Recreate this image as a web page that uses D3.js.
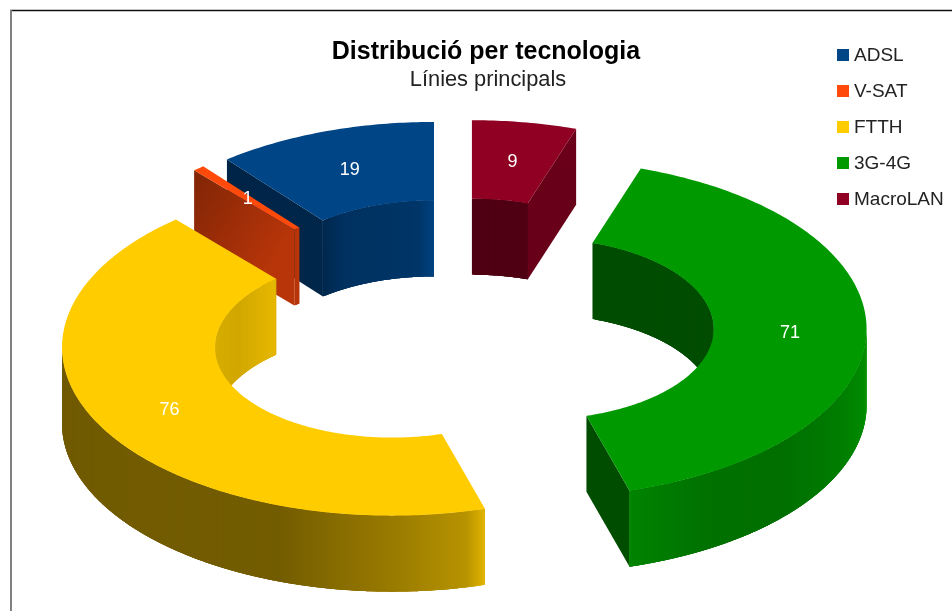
<!DOCTYPE html>
<html><head><meta charset="utf-8">
<style>html,body{margin:0;padding:0;background:#fff}svg{display:block}</style>
<script src="https://cdnjs.cloudflare.com/ajax/libs/d3/7.8.5/d3.min.js"></script>
</head><body>
<svg id="c" width="952" height="611"></svg>
<script>
const categories = ["ADSL", "V-SAT", "FTTH", "3G-4G", "MacroLAN"];
const values = [19, 1, 76, 71, 9];
const colors = ["#004586", "#ff4a0c", "#ffcc00", "#009a00", "#8f0022"];
const titleText = "Distribució per tecnologia";
const subtitleText = "Línies principals";
const drawOrder = ["ADSL", "MacroLAN", "3G-4G", "V-SAT", "FTTH"];
const outerShadeAngles = [90, 113, 133, 150, 163.5, 163.7, 167, 180, 200, 270];
const outerShadeFactors = [0.96, 0.82, 0.72, 0.74, 0.85, 0.88, 0.72, 0.6, 0.45, 0.44];
const innerShadeAngles = [0, 18.4, 18.5, 90, 270, 300, 319.05, 319.15, 321.1, 321.2, 330, 355, 360];
const innerShadeFactors = [0.55, 0.55, 0.5, 0.5, 0.86, 0.82, 0.9, 0.72, 0.72, 0.58, 0.72, 0.78, 0.95];
const cutShadeOuter = [0.52, 0.5, 0.5, 0.5, 0.75];
const cutShadeInner = [0.55, 0.72, 0.5, 0.5, 0.72];

const W = 952, H = 611, CX = 459.6, CY = 326.5, RO = 330, RI = 177, TILT = 0.507, EXPLODE = 77, DEPTH = 76;
const rad = d => d * Math.PI / 180;
const deg = r => r * 180 / Math.PI;
const xScale = d3.scaleLinear().domain([-RO, RO]).range([CX - RO, CX + RO]);
const yScale = d3.scaleLinear().domain([-RO, 0, RO]).range([CY - RO * TILT, CY + 2, CY + RO * TILT + 3]);
const outerShade = d3.scaleLinear().domain(outerShadeAngles).range(outerShadeFactors).clamp(true);
const innerShade = d3.scaleLinear().domain(innerShadeAngles).range(innerShadeFactors).clamp(true);
const line = d3.line();

const pie = d3.pie().sort(null).startAngle(2 * Math.PI).endAngle(0).value(d => d.value);
const slices = pie(categories.map((c, i) => ({name: c, value: values[i], color: colors[i], i})))
  .map(p => {
    const a0 = deg(Math.min(p.startAngle, p.endAngle)), a1 = deg(Math.max(p.startAngle, p.endAngle));
    const mid = rad((a0 + a1) / 2);
    return {...p.data, a0, a1, ox: EXPLODE * Math.sin(mid), oy: -EXPLODE * Math.cos(mid), mid};
  });

const P = (s, a, r, h = 0) => [xScale(s.ox + r * Math.sin(rad(a))), yScale(s.oy - r * Math.cos(rad(a))) + h];
const shade = (col, f) => { const c = d3.rgb(col); return d3.rgb(c.r * f, c.g * f, c.b * f).formatHex(); };
const arcPts = (s, a, b, r, h = 0) => {
  const n = Math.max(2, Math.ceil(Math.abs(b - a) / 0.75));
  return d3.range(n + 1).map(i => P(s, a + (b - a) * i / n, r, h));
};

const svg = d3.select("#c");
svg.append("rect").attr("width", W).attr("height", H).attr("fill", "#fff");
const defs = svg.append("defs");
const soft = "blur(0.55px)";
const chart = svg.append("g").style("filter", soft);

function wall(g, s, from, to, r, shadeFn) {
  const step = 0.5, overlap = 1.2;
  for (let a = from; a < to - 1e-6; a += step) {
    const b = Math.min(a + step + overlap, to);
    const pts = arcPts(s, a, b, r).concat(arcPts(s, b, a, r, DEPTH));
    g.append("path").attr("d", line(pts) + "Z").attr("fill", shade(s.color, shadeFn(a + step / 2)));
  }
}
function cut(g, s, a) {
  const id = "cut" + s.i + "_" + Math.round(a);
  const pIn = P(s, a, RI), pOut = P(s, a, RO);
  const lg = defs.append("linearGradient").attr("id", id).attr("gradientUnits", "userSpaceOnUse")
    .attr("x1", pIn[0]).attr("y1", pIn[1]).attr("x2", pOut[0]).attr("y2", pOut[1]);
  lg.append("stop").attr("offset", 0).attr("stop-color", shade(s.color, cutShadeInner[s.i]));
  lg.append("stop").attr("offset", 1).attr("stop-color", shade(s.color, cutShadeOuter[s.i]));
  g.append("path").attr("d", line([pIn, pOut, P(s, a, RO, DEPTH), P(s, a, RI, DEPTH)]) + "Z").attr("fill", `url(#${id})`);
}

drawOrder.map(n => slices.find(s => s.name === n)).forEach(s => {
  const g = chart.append("g").attr("class", "slice");
  [[0, 90], [270, 360]].forEach(([lo, hi]) => {
    const f = Math.max(lo, s.a0), t = Math.min(hi, s.a1);
    if (t > f) wall(g, s, f, t, RI, innerShade);
  });
  if (Math.sin(rad(s.a0)) < -1e-6) cut(g, s, s.a0);
  if (Math.sin(rad(s.a1)) > 1e-6) cut(g, s, s.a1);
  const f = Math.max(90, s.a0), t = Math.min(270, s.a1);
  if (t > f) wall(g, s, f, t, RO, outerShade);
  const top = arcPts(s, s.a0, s.a1, RO).concat(arcPts(s, s.a1, s.a0, RI));
  g.append("path").attr("d", line(top) + "Z").attr("fill", s.color);
});

const fontFam = "'Liberation Sans', Arial, sans-serif";
const labels = svg.append("g").style("filter", soft);
labels.selectAll("text").data(slices).join("text")
  .attr("x", s => P(s, deg(s.mid), (RI + RO) / 2)[0])
  .attr("y", s => P(s, deg(s.mid), (RI + RO) / 2)[1] + 6)
  .attr("text-anchor", "middle").attr("font-family", fontFam).attr("font-size", 18).attr("fill", "#fff")
  .text(s => s.value);

const head = svg.append("g").style("filter", soft).attr("font-family", fontFam).attr("text-anchor", "middle");
head.append("text").attr("x", 486).attr("y", 59).attr("font-size", 25).attr("font-weight", "bold").attr("fill", "#000").text(titleText);
head.append("text").attr("x", 488).attr("y", 86).attr("font-size", 21.8).attr("fill", "#222").text(subtitleText);

const legendY = d3.scalePoint().domain(categories).range([55, 199]);
const legend = svg.append("g").style("filter", soft);
const row = legend.selectAll("g").data(slices).join("g").attr("transform", s => `translate(837,${legendY(s.name)})`);
row.append("rect").attr("x", 0).attr("y", -6).attr("width", 12).attr("height", 12).attr("fill", s => s.color);
row.append("text").attr("x", 17).attr("y", 5.5).attr("font-family", fontFam).attr("font-size", 19).attr("fill", "#222").text(s => s.name);

svg.append("line").attr("x1", 10).attr("x2", W).attr("y1", 10.5).attr("y2", 10.5).attr("stroke", "#111").attr("stroke-width", 1.5);
svg.append("line").attr("x1", 11).attr("x2", 11).attr("y1", 10).attr("y2", H).attr("stroke", "#808080").attr("stroke-width", 2);
</script>
</body></html>
